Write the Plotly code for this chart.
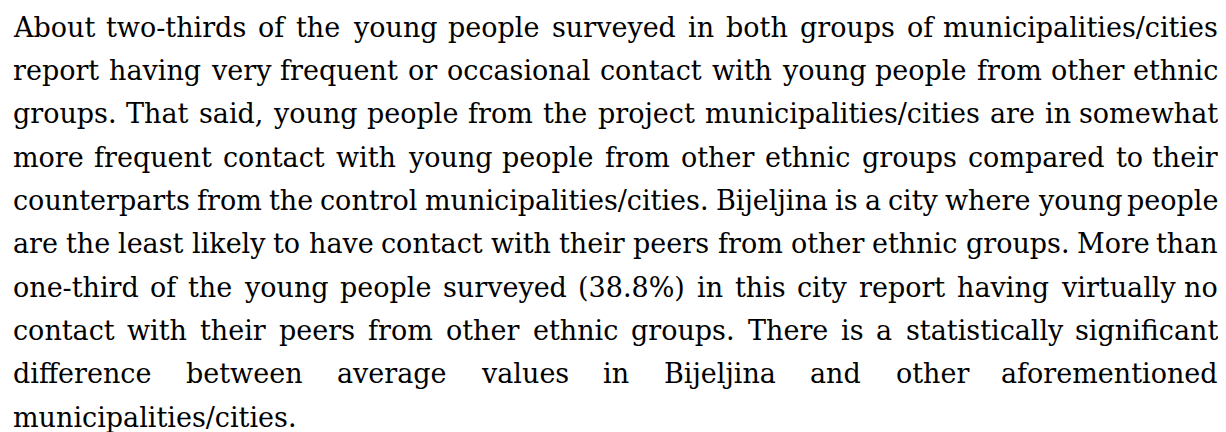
import glob
import os
import struct

import plotly.graph_objects as go

# ---------------- data (text content, line by line as in the reference) ----------------
LINES = [
    "About two-thirds of the young people surveyed in both groups of municipalities/cities",
    "report having very frequent or occasional contact with young people from other ethnic",
    "groups. That said, young people from the project municipalities/cities are in somewhat",
    "more frequent contact with young people from other ethnic groups compared to their",
    "counterparts from the control municipalities/cities. Bijeljina is a city where young people",
    "are the least likely to have contact with their peers from other ethnic groups. More than",
    "one-third of the young people surveyed (38.8%) in this city report having virtually no",
    "contact with their peers from other ethnic groups. There is a statistically significant",
    "difference between average values in Bijeljina and other aforementioned",
    "municipalities/cities.",
]
JUSTIFIED = [True] * 9 + [False]

# ---------------- layout settings ----------------
W, H = 1226, 432
OFFSET_X, OFFSET_Y = 9.0, 8.0          # page body margin of the html page
LEFT, RIGHT = 12.5 - OFFSET_X, 1220.0 - OFFSET_X
BASE0, STEP = 36.7 - OFFSET_Y, 43.3
FONT_SIZE = 27
FAMILY = "DejaVu Serif"
COLOR = "#000000"

# Times-Roman metrics, fallback only
TIMES = {" ": 250, "!": 333, "%": 833, "(": 333, ")": 333, ",": 250, "-": 333, ".": 250,
         "/": 278, ":": 278, "?": 444}
for d in "0123456789":
    TIMES[d] = 500
TIMES.update(dict(zip("ABCDEFGHIJKLMNOPQRSTUVWXYZ",
                      [722, 667, 667, 722, 611, 556, 722, 722, 333, 389, 722, 611, 889, 722, 722,
                       556, 722, 667, 556, 611, 722, 722, 944, 722, 722, 611])))
TIMES.update(dict(zip("abcdefghijklmnopqrstuvwxyz",
                      [444, 500, 444, 500, 444, 333, 500, 500, 278, 278, 500, 278, 778, 500, 500,
                       500, 500, 333, 389, 278, 500, 500, 722, 500, 500, 444])))


def load_font_widths(path):
    data = open(path, "rb").read()
    ntab = struct.unpack(">H", data[4:6])[0]
    tables = {}
    for i in range(ntab):
        tag, _cs, off, ln = struct.unpack(">4sIII", data[12 + 16 * i:28 + 16 * i])
        tables[tag.decode("latin1")] = off
    head = tables["head"]
    upm = struct.unpack(">H", data[head + 18:head + 20])[0]
    hhea = tables["hhea"]
    nhm = struct.unpack(">H", data[hhea + 34:hhea + 36])[0]
    hm = tables["hmtx"]
    adv = [struct.unpack(">H", data[hm + 4 * i:hm + 4 * i + 2])[0] for i in range(nhm)]
    cm = tables["cmap"]
    nsub = struct.unpack(">H", data[cm + 2:cm + 4])[0]
    st = None
    for i in range(nsub):
        pid, eid, off = struct.unpack(">HHI", data[cm + 4 + 8 * i:cm + 12 + 8 * i])
        s = cm + off
        fmt = struct.unpack(">H", data[s:s + 2])[0]
        if fmt == 4 and (pid, eid) == (3, 1):
            st = s
            break
        if fmt == 4 and st is None:
            st = s
    segx2 = struct.unpack(">H", data[st + 6:st + 8])[0]
    seg = segx2 // 2
    ends = struct.unpack(">%dH" % seg, data[st + 14:st + 14 + segx2])
    so = st + 16 + segx2
    starts = struct.unpack(">%dH" % seg, data[so:so + segx2])
    do = so + segx2
    deltas = struct.unpack(">%dh" % seg, data[do:do + segx2])
    ro = do + segx2
    ros = struct.unpack(">%dH" % seg, data[ro:ro + segx2])

    def gid(c):
        for k in range(seg):
            if ends[k] >= c:
                if starts[k] > c:
                    return 0
                if ros[k] == 0:
                    return (c + deltas[k]) & 0xFFFF
                addr = ro + 2 * k + ros[k] + 2 * (c - starts[k])
                g = struct.unpack(">H", data[addr:addr + 2])[0]
                return (g + deltas[k]) & 0xFFFF if g else 0
        return 0

    table = {}
    for ch in set("".join(LINES)) | {" "}:
        g = gid(ord(ch))
        table[ch] = adv[min(g, nhm - 1)] * 1000.0 / upm
    return table


widths = None
for pattern in ["/usr/share/fonts/**/DejaVuSerif.ttf", "/usr/local/share/fonts/**/DejaVuSerif.ttf",
                os.path.expanduser("~/.fonts/**/DejaVuSerif.ttf"),
                os.path.expanduser("~/.local/share/fonts/**/DejaVuSerif.ttf")]:
    found = glob.glob(pattern, recursive=True)
    if found:
        try:
            widths = load_font_widths(found[0])
            break
        except Exception:
            widths = None
if widths is None:
    widths = TIMES
    FAMILY = "Liberation Serif"
    FONT_SIZE = 31


def text_width(s):
    return sum(widths.get(ch, 500) for ch in s) / 1000.0 * FONT_SIZE


annotations = []
center_shift = 0.346 * FONT_SIZE


def add_word(word, x, y, anchor):
    annotations.append(dict(
        text=word, x=x / W, y=1 - y / H, xref="paper", yref="paper",
        xanchor=anchor, yanchor="middle", showarrow=False, borderpad=0,
        font=dict(family=FAMILY, size=FONT_SIZE, color=COLOR),
    ))


for i, line in enumerate(LINES):
    yc = BASE0 + STEP * i - center_shift
    if not JUSTIFIED[i]:
        add_word(line, LEFT, yc, "left")
        continue
    words = line.split(" ")
    ws = [text_width(w) for w in words]
    gap = (RIGHT - LEFT - sum(ws)) / (len(words) - 1)
    gap = max(gap, 2.5)
    x = LEFT
    for k, (w, wd) in enumerate(zip(words, ws)):
        if k == len(words) - 1:
            add_word(w, RIGHT, yc, "right")
        else:
            add_word(w, x, yc, "left")
        x += wd + gap

fig = go.Figure()
fig.update_layout(
    width=W, height=H,
    margin=dict(l=0, r=0, t=0, b=0),
    paper_bgcolor="white", plot_bgcolor="white",
    xaxis=dict(visible=False, range=[0, 1]),
    yaxis=dict(visible=False, range=[0, 1]),
    showlegend=False,
    annotations=annotations,
)
fig.write_html("out.html", config={"displayModeBar": False})
